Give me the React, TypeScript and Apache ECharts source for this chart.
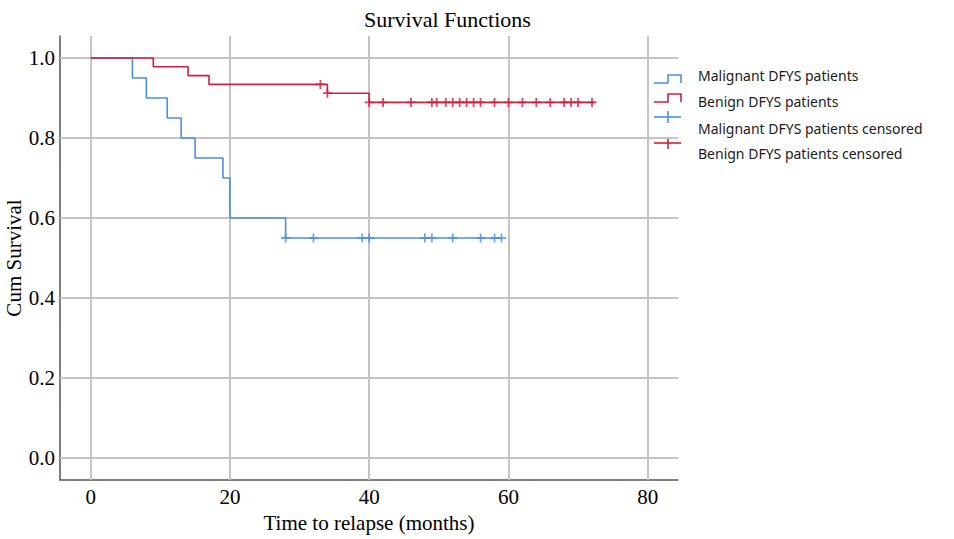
import React, { useEffect, useRef } from "react";
import * as echarts from "echarts";

// Kaplan-Meier steps (time in months, cumulative survival)
const malignantSteps: [number, number][] = [
  [0, 1.0], [6, 0.95], [8, 0.9], [11, 0.85], [13, 0.8], [15, 0.75],
  [19, 0.7], [20, 0.6], [28, 0.55], [59, 0.55],
];
const benignSteps: [number, number][] = [
  [0, 1.0], [9, 0.978], [14, 0.956], [17, 0.934], [34, 0.912], [40, 0.889], [72.4, 0.889],
];
// censored observations
const malignantCensored: [number, number][] = [
  [28, 0.55], [32, 0.55], [39, 0.55], [40, 0.55], [48, 0.55], [49, 0.55],
  [52, 0.55], [56, 0.55], [58, 0.55], [59, 0.55],
];
const benignCensored: [number, number][] = [
  [33, 0.934], [34, 0.912], [40, 0.889], [42, 0.889], [46, 0.889], [49, 0.889],
  [49.7, 0.889], [51, 0.889], [52, 0.889], [53, 0.889], [54, 0.889], [55, 0.889],
  [56, 0.889], [58, 0.889], [60, 0.889], [62, 0.889], [64, 0.889], [66, 0.889],
  [68, 0.889], [69, 0.889], [70, 0.889], [72, 0.889],
];
const xTicks = [0, 20, 40, 60, 80];
const yTicks = [0, 0.2, 0.4, 0.6, 0.8, 1.0];
const legendLabels = [
  "Malignant DFYS patients",
  "Benign DFYS patients",
  "Malignant DFYS patients censored",
  "Benign DFYS patients censored",
];

const BLUE = "#4a8fe6";
const RED = "#d61d3d";
const GRID = "#c4c4c4";
const SERIF = "'Liberation Serif', 'Times New Roman', serif";
const SANS = "'Noto Sans', 'Open Sans', sans-serif";
const PLUS = "path://M4,0H6V4H10V6H6V10H4V6H0V4H4Z";

export default function App() {
  const ref = useRef<HTMLDivElement>(null);
  useEffect(() => {
    if (!ref.current) return;
    document.body.style.margin = "0";
    const chart = echarts.init(ref.current, null, { renderer: "svg" });
    const legendY = [79, 98, 117, 143];
    const legendTextY = [75, 101, 128, 153];
    const graphics: any[] = [];
    // step icons
    [BLUE, RED].forEach((c, i) => {
      const lo = legendY[i] + 4;
      const hi = legendY[i] - 4;
      graphics.push({
        type: "polyline",
        silent: true,
        shape: { points: [[654, lo], [668, lo], [668, hi], [681, hi], [681, lo]] },
        style: { stroke: c, lineWidth: 1.6, fill: null },
      });
    });
    // censored icons
    [BLUE, RED].forEach((c, i) => {
      const y = legendY[i + 2];
      graphics.push({
        type: "line",
        silent: true,
        shape: { x1: 654, y1: y, x2: 681, y2: y },
        style: { stroke: c, lineWidth: 1.6 },
      });
      graphics.push({
        type: "line",
        silent: true,
        shape: { x1: 668, y1: y - 6, x2: 668, y2: y + 6 },
        style: { stroke: c, lineWidth: 1.6 },
      });
    });
    legendLabels.forEach((t, i) => {
      graphics.push({
        type: "text",
        silent: true,
        x: 698,
        y: legendTextY[i],
        style: {
          text: t,
          fill: "#1a1a1a",
          font: `14px ${SANS}`,
          verticalAlign: "middle",
          align: "left",
        },
      });
    });

    chart.setOption({
      animation: false,
      backgroundColor: "#ffffff",
      title: {
        text: "Survival Functions",
        left: 364,
        top: 8,
        padding: 0,
        textStyle: { fontFamily: SERIF, fontSize: 22, fontWeight: "normal", color: "#000" },
      },
      grid: {
        left: 60,
        top: 36,
        width: 618,
        height: 444,
        containLabel: false,
        outerBoundsMode: "none",
      },
      xAxis: {
        type: "value",
        min: -4.4,
        max: 84.35,
        name: "Time to relapse (months)",
        nameLocation: "middle",
        nameGap: 32,
        nameMoveOverlap: false,
        nameTextStyle: { fontFamily: SERIF, fontSize: 21, color: "#000" },
        axisLine: { show: true, onZero: false, lineStyle: { color: "#555", width: 1.5 } },
        axisTick: { show: false },
        splitLine: { show: false },
        axisLabel: {
          customValues: xTicks,
          margin: 6,
          fontFamily: SERIF,
          fontSize: 21,
          color: "#000",
        },
      },
      yAxis: {
        type: "value",
        min: -0.055,
        max: 1.055,
        name: "Cum Survival",
        nameLocation: "middle",
        nameGap: 36,
        nameMoveOverlap: false,
        nameTextStyle: { fontFamily: SERIF, fontSize: 21, color: "#000" },
        axisLine: { show: true, onZero: false, lineStyle: { color: "#555", width: 1.5 } },
        axisTick: { show: false },
        splitLine: { show: false },
        axisLabel: {
          customValues: yTicks,
          margin: 5,
          fontFamily: SERIF,
          fontSize: 21,
          color: "#000",
          formatter: (v: number) => v.toFixed(1),
        },
      },
      graphic: graphics,
      series: [
        {
          type: "line",
          data: malignantSteps,
          silent: true,
          showSymbol: false,
          lineStyle: { opacity: 0, width: 0 },
          z: 1,
          markLine: {
            silent: true,
            symbol: "none",
            z: 1,
            label: { show: false },
            lineStyle: { color: GRID, width: 2, type: "solid" },
            data: [
              ...xTicks.map((v) => ({ xAxis: v })),
              ...yTicks.map((v) => ({ yAxis: v })),
            ],
          },
        },
        {
          name: legendLabels[0],
          type: "line",
          step: "end",
          data: malignantSteps,
          showSymbol: false,
          lineStyle: { color: BLUE, width: 1.6 },
          itemStyle: { color: BLUE },
          z: 3,
        },
        {
          name: legendLabels[1],
          type: "line",
          step: "end",
          data: benignSteps,
          showSymbol: false,
          lineStyle: { color: RED, width: 1.6 },
          itemStyle: { color: RED },
          z: 4,
        },
        {
          name: legendLabels[2],
          type: "scatter",
          data: malignantCensored,
          symbol: PLUS,
          symbolSize: 9,
          itemStyle: { color: BLUE },
          z: 5,
        },
        {
          name: legendLabels[3],
          type: "scatter",
          data: benignCensored,
          symbol: PLUS,
          symbolSize: 9,
          itemStyle: { color: RED },
          z: 6,
        },
      ],
    });
    return () => chart.dispose();
  }, []);
  return <div ref={ref} style={{ width: 954, height: 539 }} />;
}
